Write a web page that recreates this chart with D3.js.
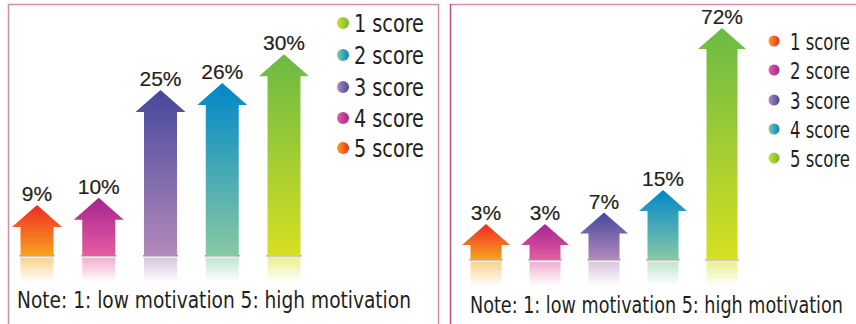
<!DOCTYPE html>
<html><head><meta charset="utf-8">
<script src="https://cdn.jsdelivr.net/npm/d3@7"></script>
<style>html,body{margin:0;padding:0;background:#fff;overflow:hidden}</style>
</head><body>
<svg id="c" width="856" height="324"></svg>
<script>
// ---- data ----
const leftScores = ["5 score","4 score","3 score","2 score","1 score"];
const leftValues = [9, 10, 25, 26, 30];
const rightScores = ["1 score","2 score","3 score","4 score","5 score"];
const rightValues = [3, 3, 7, 15, 72];
const legendLabels = ["1 score","2 score","3 score","4 score","5 score"];
const noteText = "Note: 1: low motivation 5: high motivation";
// colour per arrow position (top colour, bottom colour)
const topColors = ["#ee2b24","#a6238f","#46489c","#0087c9","#6bba45"];
const bottomColors = ["#f8a41e","#e45ea1","#b38abb","#88c9a3","#d6df21"];

const svg = d3.select("#c");
const defs = svg.append("defs");
const condFont = "'Liberation Sans Narrow','DejaVu Sans Condensed',sans-serif";

function grad(id, c1, c2, horizontal, o1=1, o2=1){
  const g = defs.append("linearGradient").attr("id", id)
    .attr("x1",0).attr("y1",0).attr("x2",horizontal?1:0).attr("y2",horizontal?0:1);
  g.append("stop").attr("offset","0%").attr("stop-color",c1).attr("stop-opacity",o1);
  g.append("stop").attr("offset","100%").attr("stop-color",c2).attr("stop-opacity",o2);
}
topColors.forEach((c,i)=>{
  grad("ag"+i, c, bottomColors[i], false);
  grad("rg"+i, bottomColors[i], bottomColors[i], false, 0.5, 0);
  grad("lg"+i, bottomColors[i], c, true);
});
grad("shadow", "#6a6a6a", "#ffffff", false, 0.9, 0);

// text squeezed horizontally to a target width
function squeezedText(parent, str, x, y, size, width){
  const g = parent.append("g");
  const t = g.append("text").attr("x",0).attr("y",0)
    .attr("font-family", condFont).attr("font-size", size).attr("fill","#231f20").text(str);
  const natural = t.node().getComputedTextLength();
  const sx = Math.min(1, width / natural);
  g.attr("transform", `translate(${x},${y}) scale(${sx},1)`);
  return g;
}

function panel(cfg){
  const g = svg.append("g");
  const x = d3.scalePoint().domain(cfg.scores).range(cfg.xRange);
  const y = d3.scaleLinear().domain(cfg.yDomain).range(cfg.yRange);
  const data = cfg.scores.map((s,i)=>({score:s, value:cfg.values[i], i}));
  const b = cfg.base, hh = cfg.headH, hw = cfg.headW/2, sw = cfg.shaftW/2;

  // reflection
  g.selectAll(".refl").data(data).enter().append("rect")
    .attr("x", d=>x(d.score)-sw).attr("y", b+2).attr("width", sw*2).attr("height", 24)
    .attr("fill", d=>`url(#rg${d.i})`);
  // shadow
  g.selectAll(".shadow").data(data).enter().append("rect")
    .attr("x", d=>x(d.score)-sw-1).attr("y", b-1).attr("width", sw*2+2).attr("height", 4)
    .attr("fill", "url(#shadow)");
  // arrows
  g.selectAll(".arrow").data(data).enter().append("path")
    .attr("d", d=>{
      const cx = x(d.score), t = y(d.value);
      return `M${cx},${t} L${cx+hw},${t+hh} L${cx+sw},${t+hh} L${cx+sw},${b} L${cx-sw},${b} L${cx-sw},${t+hh} L${cx-hw},${t+hh} Z`;
    })
    .attr("fill", d=>`url(#ag${d.i})`);
  // value labels
  g.selectAll(".lab").data(data).enter().append("text")
    .attr("x", d=>x(d.score)).attr("y", d=>y(d.value)-4)
    .attr("text-anchor","middle")
    .attr("font-family","'Liberation Sans', Arial, sans-serif")
    .attr("font-size", 21).attr("fill","#231f20")
    .attr("stroke","#231f20").attr("stroke-width",0.2)
    .text(d=>d.value+"%");
  // legend
  const lg = g.append("g");
  legendLabels.forEach((lab,k)=>{
    const idx = cfg.scores.indexOf(lab);
    const cy = cfg.legendY[k];
    lg.append("circle").attr("cx", cfg.legendX).attr("cy", cy).attr("r", cfg.legendR)
      .attr("fill", `url(#lg${idx})`);
    squeezedText(lg, lab, cfg.legendTextX, cy+9, cfg.legendFS, cfg.legendW);
  });
  // note
  squeezedText(g, noteText, cfg.noteX, cfg.noteY, 23, cfg.noteW);
}

// borders
svg.append("rect").attr("x",8.5).attr("y",4.5).attr("width",430).attr("height",340)
  .attr("fill","none").attr("stroke","#d98ca6").attr("stroke-width",1.5);
svg.append("line").attr("x1",450).attr("x2",856).attr("y1",4.5).attr("y2",4.5)
  .attr("stroke","#d98ca6").attr("stroke-width",1.5);
svg.append("line").attr("x1",450.5).attr("x2",450.5).attr("y1",4).attr("y2",324)
  .attr("stroke","#cc4f80").attr("stroke-width",1.5);

panel({scores:leftScores, values:leftValues, xRange:[37,284], yDomain:[0,30], yRange:[269.6,54.2],
  base:256, headH:22, headW:50, shaftW:33,
  legendX:343, legendTextX:354, legendY:[23,55,87,118,148], legendR:6, legendW:70, legendFS:24,
  noteX:17, noteY:308, noteW:394});
panel({scores:rightScores, values:rightValues, xRange:[486,722], yDomain:[0,72], yRange:[232.5,28],
  base:260, headH:21, headW:48, shaftW:31,
  legendX:774, legendTextX:790, legendY:[41,70,100,129,158], legendR:5.5, legendW:60, legendFS:23,
  noteX:470, noteY:313, noteW:373});
</script>
</body></html>
